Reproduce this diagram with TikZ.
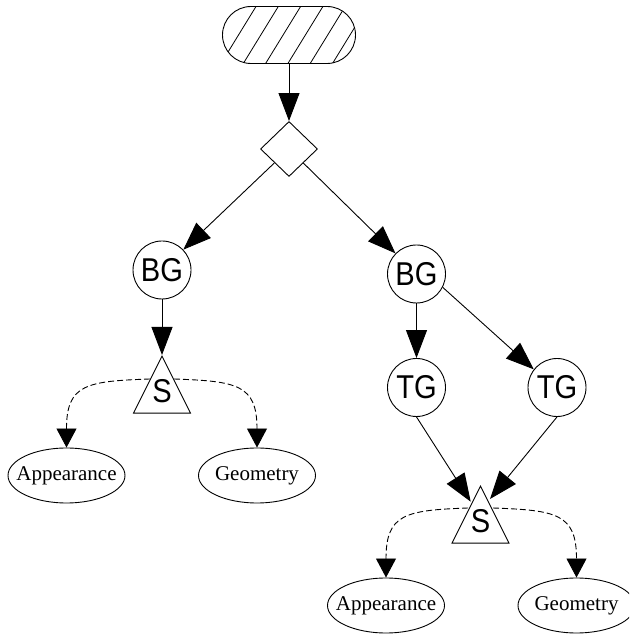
\documentclass[tikz,border=0pt]{standalone}
\usepackage{fontspec}
\usepackage{graphicx}
\setmainfont{Liberation Serif}
\newfontfamily\graphsans{Liberation Sans}
\usetikzlibrary{arrows.meta,shapes.geometric,calc}

% sans labels set slightly taller than wide
\newcommand\glabel[1]{\scalebox{0.97}[1.1]{#1}}

\tikzset{
  base/.style={draw, line width=0.9pt, inner sep=0pt},
  start/.style={base, rectangle, rounded corners=28.5pt,
    minimum width=133pt, minimum height=57pt,
    path picture={
      \foreach \k [evaluate=\k as \dx using 20.8+22.3*\k] in {-4,...,7}
        \draw[line width=0.8pt]
          ([xshift=\dx pt]path picture bounding box.south west) -- ++(35pt,57pt);
    }},
  decision/.style={base, diamond, minimum width=57pt, minimum height=55pt},
  group/.style={base, circle, minimum size=58pt,
    font=\graphsans\fontsize{30}{30}\selectfont},
  switch/.style={base, isosceles triangle, isosceles triangle stretches,
    shape border rotate=90, minimum width=57pt, minimum height=57pt},
  switchtext/.style={inner sep=0pt, font=\graphsans\fontsize{30}{30}\selectfont},
  leaf/.style={base, ellipse, minimum width=117pt, minimum height=55pt,
    font=\fontsize{21}{21}\selectfont},
  arr/.style={line width=0.9pt, -{Triangle[length=28pt,width=21pt]}},
  darr/.style={line width=0.9pt, dash pattern=on 6pt off 3pt,
    -{Triangle[length=19pt,width=20pt]}},
}

\begin{document}
\begin{tikzpicture}[x=1pt,y=1pt]
  \useasboundingbox (0,0) rectangle (629,636);
  \clip (0,0) rectangle (629,636);

  % nodes
  \node[start] (top) at (289,601) {};
  \node[decision] (dia) at (289,487) {};
  \node[group] (bgL) at (162,366) {\glabel{BG}};
  \node[group] (bgR) at (416.5,362) {\glabel{BG}};
  \node[group] (tg1) at (416.5,248.5) {\glabel{TG}};
  \node[group] (tg2) at (557,248.5) {\glabel{TG}};

  \node[switch, anchor=apex] (s1) at (162,281) {};
  \node[switchtext] (s1t) at (162,245) {\glabel{S}};
  \node[switch, anchor=apex] (s2) at (480.5,151) {};
  \node[switchtext] (s2t) at (480.5,115) {\glabel{S}};

  \node[leaf] (app1) at (66.5,160.5) {\makebox[0pt]{Appearance}};
  \node[leaf] (geo1) at (257,160.5) {\makebox[0pt]{Geometry}};
  \node[leaf] (app2) at (386,30.5) {\makebox[0pt]{Appearance}};
  \node[leaf] (geo2) at (576.5,30.5) {\makebox[0pt]{Geometry}};

  % solid edges
  \draw[arr] (top) -- (dia);
  \draw[arr] (dia) -- (bgL);
  \draw[arr] (dia) -- (bgR);
  \draw[arr] (bgL) -- (s1.apex);
  \draw[arr] (bgR) -- (tg1);
  \draw[arr] (bgR.-27) -- (tg2.142);
  \draw[arr] (tg1.south) -- ($(s2.apex)+(-9.8,-16.7)$);
  \draw[arr] (tg2.south) -- ($(s2.apex)+(9.5,-14)$);

  % dashed edges from the switches
  \draw[darr] ($(s1.apex)+(-12,-24)$) to[out=182,in=90,looseness=1.5] (app1.north);
  \draw[darr] ($(s1.apex)+(12,-24)$) to[out=-2,in=90,looseness=1.5] (geo1.north);
  \draw[darr] ($(s2.apex)+(-12.5,-23)$) to[out=182,in=90,looseness=1.5] (app2.north);
  \draw[darr] ($(s2.apex)+(12.5,-23)$) to[out=-2,in=90,looseness=1.5] (geo2.north);
\end{tikzpicture}
\end{document}
